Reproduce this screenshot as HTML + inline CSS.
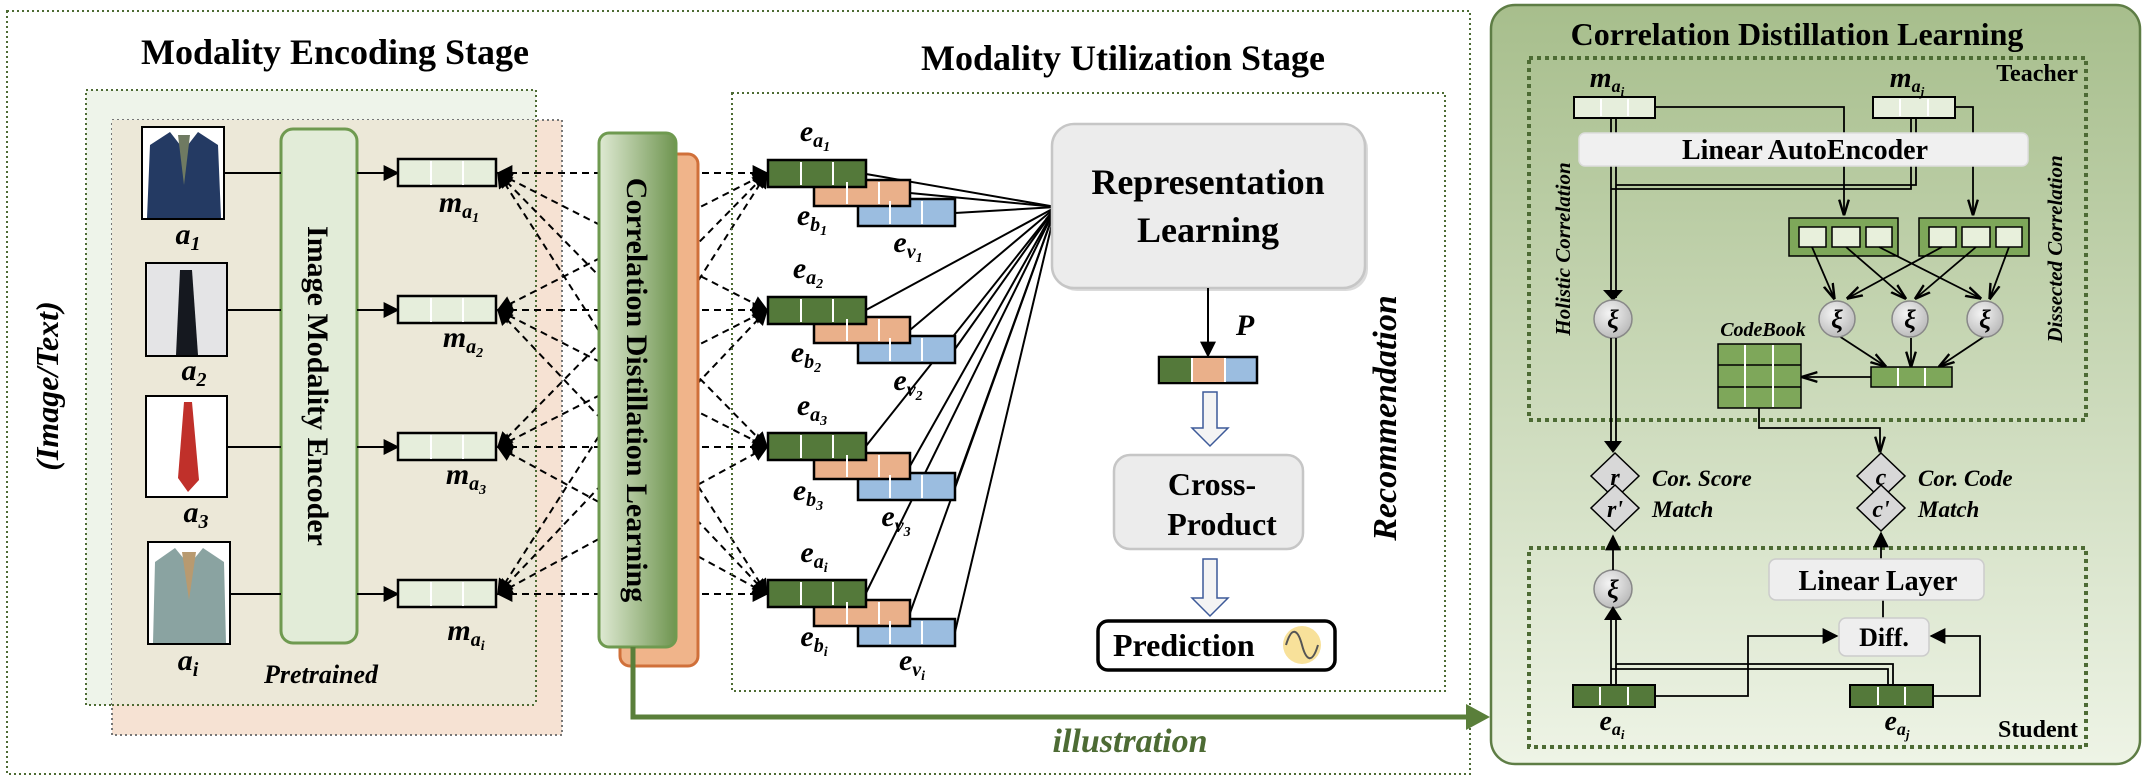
<!DOCTYPE html>
<html><head><meta charset="utf-8"><style>
html,body{margin:0;padding:0;background:#fff}
svg{display:block}
text{font-family:"Liberation Serif",serif;font-weight:bold}
.it{font-style:italic}
</style></head><body>
<svg width="2147" height="781" viewBox="0 0 2147 781" xmlns="http://www.w3.org/2000/svg">
<defs>
<marker id="ar" viewBox="0 0 10 10" refX="9" refY="5" markerWidth="7" markerHeight="7" orient="auto-start-reverse" markerUnits="userSpaceOnUse"><path d="M0,0 L10,5 L0,10 z" fill="#000"/></marker>
<marker id="ab" viewBox="0 0 10 10" refX="9" refY="5" markerWidth="16" markerHeight="16" orient="auto-start-reverse" markerUnits="userSpaceOnUse"><path d="M0,0 L10,5 L0,10 z" fill="#000"/></marker>
<marker id="ao" viewBox="0 0 10 10" refX="9" refY="5" markerWidth="16" markerHeight="16" orient="auto" markerUnits="userSpaceOnUse"><path d="M0,2 L10,5 L0,8" fill="none" stroke="#000" stroke-width="1.5"/></marker>
<linearGradient id="cdl" x1="0" x2="1" y1="0" y2="0"><stop offset="0" stop-color="#dfead3"/><stop offset="1" stop-color="#6f9550"/></linearGradient>
<linearGradient id="pan" x1="0" x2="0" y1="0" y2="1"><stop offset="0" stop-color="#a7be8c"/><stop offset="1" stop-color="#eef4e6"/></linearGradient>
<radialGradient id="xi" cx="0.4" cy="0.35" r="0.7"><stop offset="0" stop-color="#f4f4f4"/><stop offset="1" stop-color="#b8b8b8"/></radialGradient>
</defs>

<!-- outer dotted -->
<rect x="7" y="11" width="1463" height="763" fill="#fff" stroke="#4d6b34" stroke-width="2" stroke-dasharray="2,3"/>
<text x="335" y="64" font-size="36" text-anchor="middle">Modality Encoding Stage</text>
<text x="1123" y="70" font-size="36" text-anchor="middle">Modality Utilization Stage</text>

<!-- encoding boxes -->
<rect x="86" y="90" width="450" height="615" fill="#eef4ea" stroke="#4d6b34" stroke-width="2" stroke-dasharray="2,3"/>
<rect x="112" y="120" width="450" height="615" fill="#f6e2d3" stroke="#777" stroke-width="2" stroke-dasharray="2,3"/>
<rect x="112" y="120" width="424" height="585" fill="#ece8d8"/>
<path d="M86,90 H536 V705" fill="none" stroke="#4d6b34" stroke-width="2" stroke-dasharray="2,3"/>
<path d="M112,705 H536" fill="none" stroke="#4d6b34" stroke-width="2" stroke-dasharray="2,3"/>

<text class="it" font-size="32" transform="translate(58,386) rotate(-90)" text-anchor="middle">(Image/Text)</text>

<!-- images -->
<g stroke="#000" stroke-width="2">
<rect x="142" y="127" width="82" height="92" fill="#fff"/>
<rect x="146" y="263" width="81" height="93" fill="#eee"/>
<rect x="146" y="396" width="81" height="101" fill="#fff"/>
<rect x="148" y="542" width="82" height="102" fill="#fff"/>
</g>
<path d="M147,218 L150,145 L170,132 L184,150 L198,132 L218,145 L221,218 Z" fill="#243a63"/>
<path d="M178,135 L184,185 L190,135 Z" fill="#6f7a62"/>
<path d="M148,264 H226 V355 H148 Z" fill="#e4e4e6"/>
<path d="M180,270 L192,270 L198,355 L176,355 Z" fill="#15181f"/>
<path d="M184,402 L192,402 L199,480 L188,492 L178,478 Z" fill="#c0302a"/>
<path d="M153,643 L155,562 L175,548 L189,565 L203,548 L224,562 L226,643 Z" fill="#8aa3a1"/>
<path d="M182,552 L189,600 L196,552 Z" fill="#b89a70"/>

<g font-size="30" class="it" text-anchor="middle">
<text x="188" y="244">a<tspan font-size="20" dy="6">1</tspan></text>
<text x="194" y="380">a<tspan font-size="20" dy="6">2</tspan></text>
<text x="196" y="522">a<tspan font-size="20" dy="6">3</tspan></text>
<text x="188" y="670">a<tspan font-size="20" dy="6">i</tspan></text>
</g>

<!-- encoder -->
<rect x="281" y="129" width="76" height="514" rx="12" fill="#e2ecd8" stroke="#6f9a50" stroke-width="3"/>
<text font-size="30" transform="translate(308,386) rotate(90)" text-anchor="middle">Image Modality Encoder</text>
<text class="it" x="321" y="683" font-size="26" text-anchor="middle">Pretrained</text>

<g stroke="#000" stroke-width="2">
<line x1="224" y1="173" x2="281" y2="173"/><line x1="227" y1="310" x2="281" y2="310"/>
<line x1="227" y1="447" x2="281" y2="447"/><line x1="230" y1="594" x2="281" y2="594"/>
<line x1="357" y1="173" x2="398" y2="173" marker-end="url(#ab)"/>
<line x1="357" y1="310" x2="398" y2="310" marker-end="url(#ab)"/>
<line x1="357" y1="447" x2="398" y2="447" marker-end="url(#ab)"/>
<line x1="357" y1="594" x2="398" y2="594" marker-end="url(#ab)"/>
</g>

<!-- m boxes -->
<g id="mb">
<g stroke="#000" stroke-width="2.5" fill="#e6eedc">
<rect x="398" y="159" width="98" height="27"/><rect x="398" y="296" width="98" height="27"/>
<rect x="398" y="433" width="98" height="27"/><rect x="398" y="580" width="98" height="27"/>
</g>
<g stroke="#fff" stroke-width="2">
<path d="M431,161V185M463,161V185M431,298V322M463,298V322M431,435V459M463,435V459M431,582V606M463,582V606"/>
</g>
</g>
<g font-size="30" class="it" text-anchor="middle">
<text x="459" y="212">m<tspan font-size="20" dy="6">a</tspan><tspan font-size="14" dy="4">1</tspan></text>
<text x="463" y="347">m<tspan font-size="20" dy="6">a</tspan><tspan font-size="14" dy="4">2</tspan></text>
<text x="466" y="484">m<tspan font-size="20" dy="6">a</tspan><tspan font-size="14" dy="4">3</tspan></text>
<text x="466" y="640">m<tspan font-size="20" dy="6">a</tspan><tspan font-size="14" dy="4">i</tspan></text>
</g>

<!-- dashed lines -->
<g stroke="#000" stroke-width="2" stroke-dasharray="7,5" marker-start="url(#ab)" marker-end="url(#ab)" fill="none">
<line x1="498" y1="173" x2="767" y2="173"/><line x1="498" y1="173" x2="767" y2="310"/><line x1="498" y1="173" x2="767" y2="447"/><line x1="498" y1="173" x2="767" y2="594"/>
<line x1="498" y1="310" x2="767" y2="173"/><line x1="498" y1="310" x2="767" y2="310"/><line x1="498" y1="310" x2="767" y2="447"/><line x1="498" y1="310" x2="767" y2="594"/>
<line x1="498" y1="447" x2="767" y2="173"/><line x1="498" y1="447" x2="767" y2="310"/><line x1="498" y1="447" x2="767" y2="447"/><line x1="498" y1="447" x2="767" y2="594"/>
<line x1="498" y1="594" x2="767" y2="173"/><line x1="498" y1="594" x2="767" y2="310"/><line x1="498" y1="594" x2="767" y2="447"/><line x1="498" y1="594" x2="767" y2="594"/>
</g>

<!-- CDL vertical -->
<rect x="620" y="154" width="78" height="512" rx="10" fill="#f0b48a" stroke="#d0703a" stroke-width="3"/>
<rect x="599" y="133" width="77" height="514" rx="10" fill="url(#cdl)" stroke="#6f9a50" stroke-width="3"/>
<text font-size="30" transform="translate(627,390) rotate(90)" text-anchor="middle">Correlation Distillation Learning</text>
<path d="M633,647 V717 H1470" fill="none" stroke="#5a7f3a" stroke-width="5"/>
<path d="M1466,704 L1490,717 L1466,730 Z" fill="#5a7f3a"/>
<text class="it" x="1130" y="752" font-size="34" fill="#4d6b34" text-anchor="middle">illustration</text>

<!-- utilization inner -->
<rect x="732" y="93" width="713" height="598" fill="none" stroke="#4d6b34" stroke-width="2" stroke-dasharray="2,3"/>

<!-- RL lines -->
<g stroke="#000" stroke-width="2" fill="none">
<line x1="866" y1="174" x2="1056" y2="207"/><line x1="910" y1="193" x2="1056" y2="207"/><line x1="955" y1="213" x2="1056" y2="207"/>
<line x1="866" y1="310" x2="1056" y2="207"/><line x1="910" y1="330" x2="1056" y2="207"/><line x1="955" y1="349" x2="1056" y2="207"/>
<line x1="866" y1="446" x2="1056" y2="207"/><line x1="910" y1="466" x2="1056" y2="207"/><line x1="955" y1="486" x2="1056" y2="207"/>
<line x1="866" y1="593" x2="1056" y2="207"/><line x1="910" y1="613" x2="1056" y2="207"/><line x1="955" y1="632" x2="1056" y2="207" marker-end="url(#ab)"/>
</g>

<!-- e boxes -->
<g stroke="#000" stroke-width="2.5">
<rect x="858" y="199" width="97" height="27" fill="#9bbde0"/><rect x="814" y="180" width="96" height="26" fill="#eab08a"/><rect x="768" y="160" width="98" height="27" fill="#54793a"/>
<rect x="858" y="336" width="97" height="27" fill="#9bbde0"/><rect x="814" y="317" width="96" height="26" fill="#eab08a"/><rect x="768" y="297" width="98" height="27" fill="#54793a"/>
<rect x="858" y="473" width="97" height="27" fill="#9bbde0"/><rect x="814" y="453" width="96" height="26" fill="#eab08a"/><rect x="768" y="433" width="98" height="27" fill="#54793a"/>
<rect x="858" y="619" width="97" height="27" fill="#9bbde0"/><rect x="814" y="600" width="96" height="26" fill="#eab08a"/><rect x="768" y="580" width="98" height="27" fill="#54793a"/>
</g>
<g stroke="#fff" stroke-width="2">
<path d="M801,162V185M833,162V185M847,182V204M879,182V204M890,201V224M922,201V224"/>
<path d="M801,299V322M833,299V322M847,319V341M879,319V341M890,338V361M922,338V361"/>
<path d="M801,435V458M833,435V458M847,455V477M879,455V477M890,475V498M922,475V498"/>
<path d="M801,582V605M833,582V605M847,602V624M879,602V624M890,621V644M922,621V644"/>
</g>
<g font-size="30" class="it" text-anchor="middle">
<text x="815" y="141">e<tspan font-size="20" dy="6">a</tspan><tspan font-size="14" dy="4">1</tspan></text>
<text x="812" y="225">e<tspan font-size="20" dy="6">b</tspan><tspan font-size="14" dy="4">1</tspan></text>
<text x="908" y="252">e<tspan font-size="20" dy="6">v</tspan><tspan font-size="14" dy="4">1</tspan></text>
<text x="808" y="278">e<tspan font-size="20" dy="6">a</tspan><tspan font-size="14" dy="4">2</tspan></text>
<text x="806" y="362">e<tspan font-size="20" dy="6">b</tspan><tspan font-size="14" dy="4">2</tspan></text>
<text x="908" y="390">e<tspan font-size="20" dy="6">v</tspan><tspan font-size="14" dy="4">2</tspan></text>
<text x="812" y="415">e<tspan font-size="20" dy="6">a</tspan><tspan font-size="14" dy="4">3</tspan></text>
<text x="808" y="500">e<tspan font-size="20" dy="6">b</tspan><tspan font-size="14" dy="4">3</tspan></text>
<text x="896" y="526">e<tspan font-size="20" dy="6">v</tspan><tspan font-size="14" dy="4">3</tspan></text>
<text x="814" y="562">e<tspan font-size="20" dy="6">a</tspan><tspan font-size="14" dy="4">i</tspan></text>
<text x="814" y="646">e<tspan font-size="20" dy="6">b</tspan><tspan font-size="14" dy="4">i</tspan></text>
<text x="912" y="670">e<tspan font-size="20" dy="6">v</tspan><tspan font-size="14" dy="4">i</tspan></text>
</g>

<!-- RL box -->
<rect x="1055" y="127" width="313" height="164" rx="22" fill="#b8b8b8" opacity="0.5"/>
<rect x="1052" y="124" width="313" height="164" rx="22" fill="#ececec" stroke="#c6c6c6" stroke-width="2.5"/>
<text x="1208" y="194" font-size="36" text-anchor="middle">Representation</text>
<text x="1208" y="242" font-size="36" text-anchor="middle">Learning</text>
<line x1="1208" y1="288" x2="1208" y2="356" stroke="#000" stroke-width="2" marker-end="url(#ab)"/>
<text class="it" x="1245" y="335" font-size="30" text-anchor="middle">P</text>
<rect x="1159" y="357" width="98" height="26" fill="#9bbde0" stroke="#000" stroke-width="2.5"/>
<rect x="1160" y="358" width="32" height="24" fill="#54793a"/><rect x="1192" y="358" width="33" height="24" fill="#eab08a"/>
<path d="M1192,358V382M1225,358V382" stroke="#fff" stroke-width="2"/>
<path d="M1203,392 H1217 V428 H1228 L1210,446 L1192,428 H1203 Z" fill="#f4f4f4" stroke="#3d5a99" stroke-width="1.5"/>
<rect x="1114" y="455" width="189" height="94" rx="16" fill="#ececec" stroke="#c6c6c6" stroke-width="2.5"/>
<text x="1212" y="495" font-size="32" text-anchor="middle">Cross-</text>
<text x="1222" y="535" font-size="32" text-anchor="middle">Product</text>
<path d="M1203,559 H1217 V598 H1228 L1210,616 L1192,598 H1203 Z" fill="#f4f4f4" stroke="#3d5a99" stroke-width="1.5"/>
<rect x="1098" y="621" width="237" height="49" rx="10" fill="#fff" stroke="#000" stroke-width="3.5"/>
<text x="1113" y="656" font-size="32">Prediction</text>
<circle cx="1302" cy="645" r="19" fill="#f8e19a"/>
<path d="M1286,645 C1292,625 1298,630 1302,645 S1312,665 1318,645" fill="none" stroke="#555" stroke-width="2"/>
<text class="it" font-size="34" transform="translate(1396,418) rotate(-90)" text-anchor="middle">Recommendation</text>

<!-- right panel -->
<rect x="1491" y="5" width="649" height="759" rx="24" fill="url(#pan)" stroke="#5e7d45" stroke-width="2.5"/>
<text x="1797" y="45" font-size="32" text-anchor="middle">Correlation Distillation Learning</text>
<rect x="1529" y="58" width="557" height="362" fill="none" stroke="#4d6b34" stroke-width="4" stroke-dasharray="4,4"/>
<rect x="1529" y="548" width="557" height="199" fill="none" stroke="#4d6b34" stroke-width="4" stroke-dasharray="4,4"/>
<text x="2078" y="81" font-size="24" text-anchor="end">Teacher</text>
<text x="2078" y="737" font-size="24" text-anchor="end">Student</text>
<text class="it" font-size="21" transform="translate(1570,249) rotate(-90)" text-anchor="middle">Holistic Correlation</text>
<text class="it" font-size="21" transform="translate(2062,249) rotate(-90)" text-anchor="middle">Dissected Correlation</text>

<!-- teacher lines -->
<g stroke="#000" stroke-width="1.8" fill="none">
<path d="M1655,107 H1844 V214" marker-end="url(#ao)"/>
<path d="M1955,107 H1973 V214" marker-end="url(#ao)"/>
<path d="M1611,118 V298"/><path d="M1616,118 V298"/>
<path d="M1911,118 V189 H1611"/><path d="M1916,118 V185 H1616"/>
</g>
<path d="M1603,290 L1613,301 L1623,290 Z" fill="#000"/>
<rect x="1574" y="97" width="81" height="21" fill="#e6eedc" stroke="#000" stroke-width="2"/>
<rect x="1873" y="97" width="82" height="21" fill="#e6eedc" stroke="#000" stroke-width="2"/>
<path d="M1601,99V116M1628,99V116M1900,99V116M1928,99V116" stroke="#fff" stroke-width="2"/>
<g font-size="28" class="it" text-anchor="middle">
<text x="1607" y="87">m<tspan font-size="18" dy="5">a</tspan><tspan font-size="13" dy="4">i</tspan></text>
<text x="1907" y="87">m<tspan font-size="18" dy="5">a</tspan><tspan font-size="13" dy="4">j</tspan></text>
</g>
<rect x="1579" y="133" width="449" height="33" rx="6" fill="#f0f0f0" stroke="#ddd" stroke-width="1.5"/>
<text x="1805" y="159" font-size="28" text-anchor="middle">Linear AutoEncoder</text>

<!-- groups -->
<rect x="1789" y="218" width="109" height="38" fill="#7ea75a" stroke="#000" stroke-width="1.5"/>
<rect x="1919" y="218" width="110" height="38" fill="#7ea75a" stroke="#000" stroke-width="1.5"/>
<g fill="#e8f0dc" stroke="#000" stroke-width="1.5">
<rect x="1799" y="227" width="27" height="20"/><rect x="1832" y="227" width="28" height="20"/><rect x="1866" y="227" width="26" height="20"/>
<rect x="1929" y="227" width="27" height="20"/><rect x="1962" y="227" width="28" height="20"/><rect x="1996" y="227" width="26" height="20"/>
</g>
<g stroke="#000" stroke-width="1.8" fill="none" marker-end="url(#ao)">
<line x1="1812" y1="247" x2="1834" y2="298"/><line x1="1942" y1="247" x2="1848" y2="298"/>
<line x1="1846" y1="247" x2="1905" y2="298"/><line x1="1976" y1="247" x2="1916" y2="298"/>
<line x1="1879" y1="247" x2="1980" y2="298"/><line x1="2009" y1="247" x2="1990" y2="298"/>
<line x1="1839" y1="336" x2="1885" y2="366"/><line x1="1911" y1="338" x2="1911" y2="366"/><line x1="1985" y1="336" x2="1940" y2="366"/>
<line x1="1871" y1="377" x2="1803" y2="377"/>
<path d="M1759,408 V428 H1880 V451"/>
</g>
<g fill="url(#xi)" stroke="#888" stroke-width="1.5">
<circle cx="1613" cy="319" r="19"/><circle cx="1837" cy="319" r="18"/><circle cx="1910" cy="319" r="18"/><circle cx="1985" cy="319" r="18"/>
<circle cx="1613" cy="589" r="19"/>
</g>
<g font-size="26" font-style="italic" text-anchor="middle">
<text x="1613" y="328">ξ</text><text x="1837" y="328">ξ</text><text x="1910" y="328">ξ</text><text x="1985" y="328">ξ</text><text x="1613" y="598">ξ</text>
</g>
<rect x="1871" y="367" width="81" height="20" fill="#7ea75a" stroke="#000" stroke-width="1.5"/>
<path d="M1898,368V386M1925,368V386" stroke="#fff" stroke-width="2"/>
<rect x="1718" y="344" width="83" height="64" fill="#7ea75a" stroke="#000" stroke-width="1.5"/>
<path d="M1718,365H1801M1718,387H1801" stroke="#000" stroke-width="1.5"/>
<path d="M1745,345V407M1773,345V407" stroke="#fff" stroke-width="2"/>
<text class="it" x="1763" y="336" font-size="20" font-weight="normal" text-anchor="middle">CodeBook</text>

<!-- holistic to diamond -->
<path d="M1611,338 V445M1616,338 V445" stroke="#000" stroke-width="1.8"/>
<path d="M1604,441 L1613,453 L1622,441 Z" fill="#000"/>
<g fill="#d8d8d8" stroke="#000" stroke-width="1.5">
<path d="M1615,453 L1639,476 L1615,499 L1591,476 Z"/><path d="M1615,485 L1639,508 L1615,531 L1591,508 Z"/>
<path d="M1881,453 L1905,476 L1881,499 L1857,476 Z"/><path d="M1881,485 L1905,508 L1881,531 L1857,508 Z"/>
</g>
<g font-size="24" class="it" text-anchor="middle">
<text x="1615" y="485">r</text><text x="1615" y="517">r'</text><text x="1881" y="485">c</text><text x="1881" y="517">c'</text>
</g>
<g font-size="23" class="it">
<text x="1652" y="486">Cor. Score</text><text x="1652" y="517">Match</text>
<text x="1918" y="486">Cor. Code</text><text x="1918" y="517">Match</text>
</g>

<!-- student -->
<g stroke="#000" stroke-width="1.8" fill="none">
<line x1="1613" y1="570" x2="1613" y2="536" marker-end="url(#ab)"/>
<path d="M1611,685 V612M1616,685 V612"/>
<path d="M1888,685 V669 H1611M1893,685 V664 H1616"/>
<path d="M1655,696 H1748 V636 H1837" marker-end="url(#ab)"/>
<path d="M1933,696 H1980 V636 H1931" marker-end="url(#ab)"/>
<line x1="1883" y1="618" x2="1883" y2="600"/>
<line x1="1881" y1="559" x2="1881" y2="533" marker-end="url(#ab)"/>
</g>
<path d="M1604,620 L1613,606 L1622,620 Z" fill="#000"/>
<rect x="1769" y="559" width="215" height="41" rx="7" fill="#eeeeee" stroke="#ccc" stroke-width="1.5"/>
<text x="1878" y="590" font-size="28" text-anchor="middle">Linear Layer</text>
<rect x="1839" y="618" width="90" height="38" rx="7" fill="#eeeeee" stroke="#ccc" stroke-width="1.5"/>
<text x="1884" y="646" font-size="26" text-anchor="middle">Diff.</text>
<rect x="1573" y="685" width="82" height="22" fill="#54793a" stroke="#000" stroke-width="2"/>
<rect x="1850" y="685" width="83" height="22" fill="#54793a" stroke="#000" stroke-width="2"/>
<path d="M1600,687V705M1628,687V705M1878,687V705M1905,687V705" stroke="#fff" stroke-width="2"/>
<g font-size="28" class="it" text-anchor="middle">
<text x="1612" y="730">e<tspan font-size="18" dy="5">a</tspan><tspan font-size="13" dy="4">i</tspan></text>
<text x="1897" y="730">e<tspan font-size="18" dy="5">a</tspan><tspan font-size="13" dy="4">j</tspan></text>
</g>
</svg>
</body></html>
